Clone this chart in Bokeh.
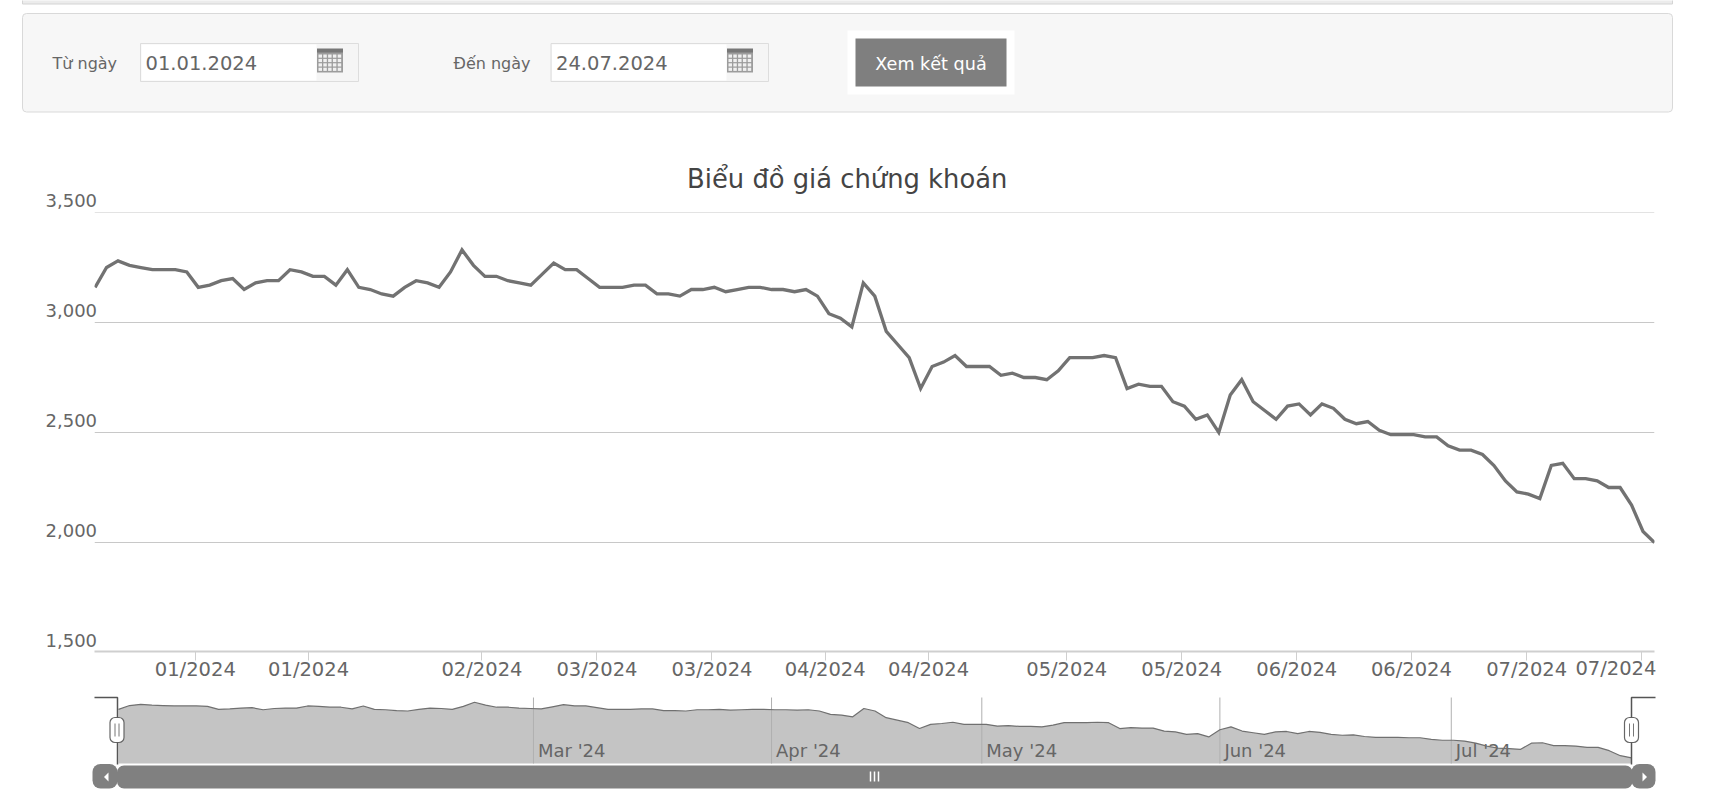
from bokeh.plotting import figure
from bokeh.layouts import column, row
from bokeh.embed import file_html
from bokeh.resources import INLINE
from bokeh.models import Range1d, FixedTicker, LinearAxis, BoxAnnotation, Title, Grid
from bokeh.core.properties import value

# ---------- data ----------
prices = [3160, 3250, 3280, 3260, 3250, 3240, 3240, 3240, 3230, 3160,
          3170, 3190, 3200, 3150, 3180, 3190, 3190, 3240, 3230, 3210,
          3210, 3170, 3240, 3160, 3150, 3130, 3120, 3160, 3190, 3180,
          3160, 3230, 3330, 3260, 3210, 3210, 3190, 3180, 3170, 3220,
          3270, 3240, 3240, 3200, 3160, 3160, 3160, 3170, 3170, 3130,
          3130, 3120, 3150, 3150, 3160, 3140, 3150, 3160, 3160, 3150,
          3150, 3140, 3150, 3120, 3040, 3020, 2980, 3180, 3120, 2960,
          2900, 2840, 2700, 2800, 2820, 2850, 2800, 2800, 2800, 2760,
          2770, 2750, 2750, 2740, 2780, 2840, 2840, 2840, 2850, 2840,
          2700, 2720, 2710, 2710, 2640, 2620, 2560, 2580, 2500, 2670,
          2740, 2640, 2600, 2560, 2620, 2630, 2580, 2630, 2610, 2560,
          2540, 2550, 2510, 2490, 2490, 2490, 2480, 2480, 2440, 2420,
          2420, 2400, 2350, 2280, 2230, 2220, 2200, 2350, 2360, 2290,
          2290, 2280, 2250, 2250, 2170, 2050, 2000]
days = list(range(len(prices)))
y_ticks = [1500, 2000, 2500, 3000, 3500]
y_tick_labels = ["1,500", "2,000", "2,500", "3,000", "3,500"]
x_ticks = [8.74, 18.62, 33.74, 43.77, 53.8, 63.67, 72.69, 84.74, 94.77, 104.8, 114.8, 124.85, 134.9]
x_tick_labels = ["01/2024", "01/2024", "02/2024", "03/2024", "03/2024", "04/2024", "04/2024",
                 "05/2024", "05/2024", "06/2024", "06/2024", "07/2024", "07/2024"]
nav_months = ["Mar '24", "Apr '24", "May '24", "Jun '24", "Jul '24"]
nav_month_pos = [37.3, 58.7, 77.6, 99.0, 119.8]

FONT = "DejaVu Sans"
TXT = "#666666"
W = 1709
FL, FR = 94, 1654


def pixel_fig(top, bottom):
    """Strip whose own scale is the page pixel grid."""
    f = figure(width=W, height=bottom - top, x_range=Range1d(0, W), y_range=Range1d(bottom, top),
               toolbar_location=None, output_backend="svg", min_border=0, x_axis_type=None, y_axis_type=None)
    f.grid.visible = False
    f.outline_line_color = None
    return f


def box(f, l, r, t, b, fill, line=None, lw=1, radius=0):
    f.add_layout(BoxAnnotation(left=l, right=r, top=t, bottom=b, fill_color=fill, fill_alpha=1,
                               line_color=line or fill, line_alpha=1 if line else 0, line_width=lw,
                               border_radius=radius))


def text(f, x, y, s, size, color=TXT, align="left", **kw):
    return f.text([x], [y], text=[s], text_font=value(FONT), text_font_size=size, text_color=color,
                  text_align=align, text_baseline="middle", level="overlay", **kw)


# ---------- form strip ----------
top = pixel_fig(0, 130)
box(top, 22, 1672, -6, 3.5, "#ececec", "#d4d4d4")
box(top, 22, 1672, 13, 111.5, "#f7f7f7", "#d9d9d9", radius=4)
for x0, x1, xw, lbl, lx, val in [(140, 358, 316, "Từ ngày", 52, "01.01.2024"),
                                 (550.5, 768, 726, "Đến ngày", 453, "24.07.2024")]:
    box(top, x0, x1, 43, 81, "#f5f5f5", "#dddddd")
    box(top, x0 + 1, xw, 44, 80, "#ffffff")
    text(top, lx, 63, lbl, "16px")
    text(top, x0 + 5, 62, val, "19.5px")
    ix = xw + 0.5
    top.quad(left=[ix], right=[ix + 26], top=[49], bottom=[72], fill_color="#9c9c9c", line_color=None, level="overlay")
    top.quad(left=[ix], right=[ix + 26], top=[48], bottom=[52], fill_color="#777777", line_color=None, level="overlay")
    for r in range(4):
        for c in range(5):
            top.quad(left=[ix + 1.5 + c * 4.8], right=[ix + 5 + c * 4.8], top=[54 + r * 4.4], bottom=[57.2 + r * 4.4],
                     fill_color="#f0f0f0", line_color=None, level="overlay")
box(top, 847, 1014, 30, 94, "#ffffff")
box(top, 855, 1006, 38, 86, "#7f7f7f")
text(top, 930.5, 63, "Xem kết quả", "17.6px", color="#ffffff", align="center")

# ---------- main chart ----------
p = figure(width=W, height=560, x_range=Range1d(-0.05, 136), y_range=Range1d(1504.5, 3500.1),
           toolbar_location=None, output_backend="svg", x_axis_type=None, y_axis_type=None,
           min_border_left=FL, min_border_right=W - FR, min_border_top=82, min_border_bottom=39)
p.outline_line_color = None
p.add_layout(Title(text="Biểu đồ giá chứng khoán", align="left", offset=592.6, standoff=37,
                   text_font=FONT, text_font_size="25.8px", text_font_style="normal", text_color="#444444"), "above")
xax = LinearAxis(ticker=FixedTicker(ticks=x_ticks),
                 major_label_overrides={t: (l if i < len(x_ticks) - 1 else "")
                                        for i, (t, l) in enumerate(zip(x_ticks, x_tick_labels))},
                 axis_line_color="#cfcfcf", axis_line_width=2, major_tick_line_color="#cfcfcf", major_tick_line_width=1,
                 major_tick_in=0, major_tick_out=9, minor_tick_out=0, minor_tick_in=0, major_label_standoff=-3,
                 major_label_text_font=FONT, major_label_text_font_size="19.5px", major_label_text_color=TXT)
p.add_layout(xax, "below")
p.add_layout(Grid(dimension=1, ticker=FixedTicker(ticks=y_ticks), grid_line_color="#c8c8c8", grid_line_width=1))
p.line(days, prices, line_color="#727272", line_width=3.3, line_join="miter")
p.text(x=[0] * len(y_ticks), y=y_ticks, text=y_tick_labels, text_align="right", text_baseline="alphabetic",
       x_offset=2, y_offset=-11.6, text_font=value(FONT), text_font_size="18px", text_color=TXT, level="overlay")
p.text(x=[x_ticks[-1]], y=[1500], text=[x_tick_labels[-1]], x_offset=-26, y_offset=16, text_align="center",
       text_baseline="alphabetic", text_font=value(FONT), text_font_size="19.5px", text_color=TXT, level="overlay")

# ---------- navigator ----------
nav = pixel_fig(690, 795)
IDX0, IDXS = 118, 11.125
V0, VS = 757.3, 0.0418
nav.extra_x_ranges["idx"] = Range1d((0 - IDX0) / IDXS, (W - IDX0) / IDXS)
nav.extra_y_ranges["val"] = Range1d(2000 + (V0 - 795) / VS, 2000 + (V0 - 690) / VS)
floor = 2000 + (V0 - 763) / VS
nav.varea(x=days, y1=[floor] * len(days), y2=prices, fill_color="#c4c4c4", x_range_name="idx", y_range_name="val")
nav.segment(x0=nav_month_pos, x1=nav_month_pos, y0=[697] * 5, y1=[763] * 5, line_color="#b0b0b0", line_width=1,
            x_range_name="idx")
nav.text(x=nav_month_pos, y=[750.4] * 5, text=nav_months, x_offset=4.5, text_font=value(FONT), text_font_size="18px",
         text_color=TXT, text_baseline="alphabetic", x_range_name="idx")
nav.line(days, prices, line_color="#707070", line_width=1.2, x_range_name="idx", y_range_name="val")

box(nav, 116.5, 1632, 765, 788, "#808080", radius=7)
for l, r in [(92, 117), (1631, 1655)]:
    box(nav, l, r, 763.5, 788, "#808080", radius=8)
for x, x2 in [(117, 94), (1631, 1655)]:
    nav.line([x2, x, x], [697, 697, 717], line_color="#555555", line_width=1.5, level="overlay")
    nav.line([x, x], [742, 764], line_color="#555555", line_width=1.5, level="overlay")
for l, r in [(109.5, 123.5), (1624, 1638)]:
    box(nav, l, r, 717, 742, "#ffffff", "#666666", lw=1.2, radius=5)
    c = (l + r) / 2
    nav.segment(x0=[c - 2, c + 2], x1=[c - 2, c + 2], y0=[723, 723], y1=[736, 736], line_color="#777777", line_width=1,
                level="overlay")
nav.patch([108, 103.5, 108], [772, 776.5, 781], fill_color="#ffffff", line_color=None, level="overlay")
nav.patch([1642, 1646.5, 1642], [772, 776.5, 781], fill_color="#ffffff", line_color=None, level="overlay")
nav.segment(x0=[870, 874, 878], x1=[870, 874, 878], y0=[771, 771, 771], y1=[781, 781, 781], line_color="#ffffff",
            line_width=1.5, level="overlay")

layout = column(row(top), p, row(nav), spacing=0)
open("out.html", "w").write(file_html(layout, INLINE))
